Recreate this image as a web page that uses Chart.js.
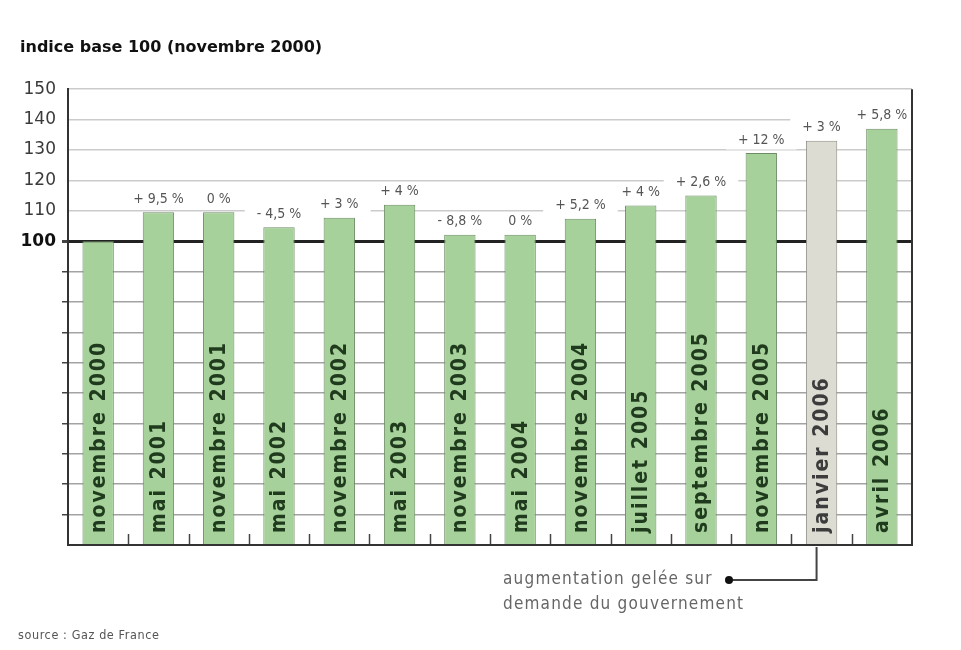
<!DOCTYPE html>
<html lang="fr">
<head>
<meta charset="utf-8">
<title>Prix du gaz : indice base 100 (novembre 2000)</title>
<script src="https://cdn.jsdelivr.net/npm/chart.js@4.4.1/dist/chart.umd.min.js"></script>
<style>
  html, body { margin: 0; padding: 0; background: #fff; }
  #wrap { position: relative; width: 961px; height: 650px; }
</style>
</head>
<body>
<div id="wrap"><canvas id="gazChart" width="961" height="650"></canvas></div>
<script>
// tariff dates and index level (base 100 = novembre 2000)
const periods = [
  'novembre 2000', 'mai 2001', 'novembre 2001', 'mai 2002', 'novembre 2002',
  'mai 2003', 'novembre 2003', 'mai 2004', 'novembre 2004', 'juillet 2005',
  'septembre 2005', 'novembre 2005', 'janvier 2006', 'avril 2006'
];
const indexValues = [100, 109.5, 109.5, 104.6, 107.7, 112, 102.1, 102.1, 107.4, 111.7, 115, 129, 133, 137];
const changeLabels = [
  '', '+ 9,5 %', '0 %', '- 4,5 %', '+ 3 %', '+ 4 %', '- 8,8 %',
  '0 %', '+ 5,2 %', '+ 4 %', '+ 2,6 %', '+ 12 %', '+ 3 %', '+ 5,8 %'
];
const frozenPeriod = 'janvier 2006';
const yMin = 0, yMax = 150, yStep = 10;
const firstLabelledTick = 100;
const noteLines = ['augmentation gelée sur', 'demande du gouvernement'];
const sourceText = 'source : Gaz de France';

const GREEN = '#a6d19a';
const GREEN_EDGE = '#6d8c64';
const FROZEN = '#dcdcd3';
const FROZEN_EDGE = '#8e8e86';
const AXIS = '#333';
const COND = '"DejaVu Sans Condensed", "DejaVu Sans", sans-serif';

const barFill = periods.map(p => p === frozenPeriod ? FROZEN : GREEN);
const barEdge = periods.map(p => p === frozenPeriod ? FROZEN_EDGE : GREEN_EDGE);

const decorations = {
  id: 'decorations',
  beforeDatasetsDraw(chart) {
    // white patches behind the change labels break the grid lines
    const { ctx } = chart;
    const bars = chart.getDatasetMeta(0).data;
    ctx.save();
    ctx.font = '14px ' + COND;
    bars.forEach((bar, i) => {
      if (!changeLabels[i]) return;
      const w = ctx.measureText(changeLabels[i]).width + 24;
      ctx.fillStyle = '#fff';
      ctx.fillRect(bar.x - w / 2, bar.y - 13 - 9.5, w, 19);
    });
    ctx.restore();
  },
  afterDatasetsDraw(chart) {
    const { ctx, chartArea: area } = chart;
    const bars = chart.getDatasetMeta(0).data;
    ctx.save();

    // change labels above the bars
    ctx.font = '14px ' + COND;
    ctx.fillStyle = '#555';
    ctx.textAlign = 'center';
    ctx.textBaseline = 'middle';
    bars.forEach((bar, i) => {
      if (changeLabels[i]) ctx.fillText(changeLabels[i], bar.x, bar.y - 13);
    });

    // period names written upward inside the bars
    ctx.font = 'bold 21px ' + COND;
    ctx.letterSpacing = '2px';
    ctx.textAlign = 'left';
    bars.forEach((bar, i) => {
      ctx.save();
      ctx.translate(bar.x + 1, area.bottom - 12);
      ctx.rotate(-Math.PI / 2);
      ctx.fillStyle = periods[i] === frozenPeriod ? '#3c3c3c' : '#1f3a1c';
      ctx.fillText(periods[i], 0, 0);
      ctx.restore();
    });
    ctx.letterSpacing = '0px';

    // small marks between categories on the base line
    ctx.strokeStyle = '#444';
    ctx.lineWidth = 1.5;
    for (let i = 0; i < bars.length - 1; i++) {
      const x = Math.round((bars[i].x + bars[i + 1].x) / 2) + 0.5;
      ctx.beginPath();
      ctx.moveTo(x, area.bottom);
      ctx.lineTo(x, area.bottom - 11);
      ctx.stroke();
    }

    // right frame
    ctx.strokeStyle = AXIS;
    ctx.lineWidth = 2;
    ctx.beginPath();
    ctx.moveTo(area.right, area.top);
    ctx.lineTo(area.right, area.bottom);
    ctx.stroke();

    // note pointing to the frozen tariff
    const frozen = bars[periods.indexOf(frozenPeriod)];
    const noteY = 580, dotX = 729;
    ctx.strokeStyle = '#444';
    ctx.lineWidth = 2;
    ctx.beginPath();
    ctx.moveTo(frozen.x - 5, area.bottom + 2);
    ctx.lineTo(frozen.x - 5, noteY);
    ctx.lineTo(dotX, noteY);
    ctx.stroke();
    ctx.fillStyle = '#111';
    ctx.beginPath();
    ctx.arc(dotX, noteY, 4, 0, Math.PI * 2);
    ctx.fill();

    ctx.font = '17px ' + COND;
    ctx.letterSpacing = '1.2px';
    ctx.fillStyle = '#666';
    ctx.textAlign = 'left';
    ctx.textBaseline = 'middle';
    noteLines.forEach((line, k) => ctx.fillText(line, 503, noteY + k * 25));

    ctx.font = '12.5px ' + COND;
    ctx.letterSpacing = '0.6px';
    ctx.fillStyle = '#555';
    ctx.fillText(sourceText, 18, 636);
    ctx.letterSpacing = '0px';
    ctx.restore();
  }
};

new Chart(document.getElementById('gazChart'), {
  type: 'bar',
  data: {
    labels: periods,
    datasets: [{
      data: indexValues,
      backgroundColor: barFill,
      borderColor: barEdge,
      borderWidth: 1,
      categoryPercentage: 1,
      barPercentage: 0.52,
    }],
  },
  options: {
    responsive: false,
    animation: false,
    layout: { padding: { top: 0, left: 20, right: 49, bottom: 105 } },
    plugins: {
      legend: { display: false },
      tooltip: { enabled: false },
      title: {
        display: true,
        text: 'indice base 100 (novembre 2000)',
        align: 'start',
        color: '#111',
        font: { family: '"DejaVu Sans", sans-serif', size: 16, weight: 'bold' },
        padding: { top: 38, bottom: 32 },
      },
    },
    scales: {
      x: {
        ticks: { display: false },
        grid: { drawOnChartArea: false, drawTicks: false },
        border: { color: AXIS, width: 2, z: 1 },
      },
      y: {
        min: yMin,
        max: yMax,
        afterFit: scale => { scale.width = 48; },
        ticks: {
          stepSize: yStep,
          padding: 6,
          callback: v => (v >= firstLabelledTick ? v : ''),
          color: c => (c.tick && c.tick.value === 100 ? '#111' : '#3a3a3a'),
          font: c => ({
            family: '"DejaVu Sans", sans-serif',
            size: 17,
            weight: c.tick && c.tick.value === 100 ? 'bold' : 'normal',
          }),
        },
        grid: {
          color: c => (c.tick.value === 100 ? '#222' : c.tick.value > 100 ? '#cbcbcb' : '#a3a3a3'),
          lineWidth: c => (c.tick.value === 100 ? 3 : 1.5),
          tickLength: 6,
          tickColor: c => (c.tick.value <= 100 && c.tick.value > 0 ? '#444' : 'rgba(0,0,0,0)'),
        },
        border: { color: AXIS, width: 2, z: 1 },
      },
    },
  },
  plugins: [decorations],
});
</script>
</body>
</html>
